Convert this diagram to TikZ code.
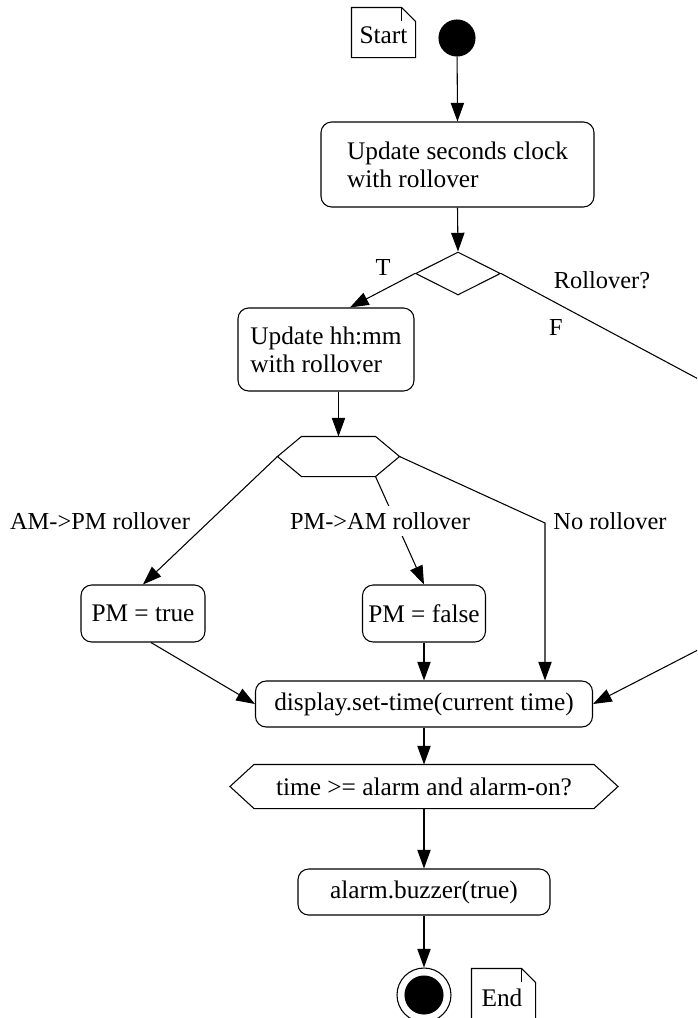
\documentclass[tikz,border=0pt]{standalone}
\usepackage{fontspec}
\setmainfont{Liberation Serif}
\usetikzlibrary{arrows.meta,calc,shapes.geometric}
\begin{document}
\begin{tikzpicture}[x=0.75pt,y=-0.75pt,
  line width=0.8pt,
  every node/.style={font=\fontsize{19}{21}\selectfont},
  arr/.style={-{Triangle[length=14pt,width=10pt]}},
  actbox/.style={draw,rounded corners=8pt,inner sep=0pt,align=left},
  plainbox/.style={draw=none,inner sep=0pt},
  lbl/.style={font=\fontsize{18.3}{21}\selectfont,inner sep=1pt},
  dot/.style={circle,fill=black,draw=black,inner sep=0pt}
]
\useasboundingbox (0,0) rectangle (697,1018);
\clip (0,0) rectangle (697,1018);

% notes
\node[plainbox,minimum width=47.25pt,minimum height=36.75pt] (snote) at (383.5,32.5) {};
\node at (383.5,35) {Start};
\node[plainbox,minimum width=47.25pt,minimum height=36.75pt] (enote) at (503.5,993.5) {};
\node at (502,998) {End};
\foreach \n in {snote,enote}{
  \draw (\n.south west) -- (\n.north west) -- ($(\n.north east)+(-14,0)$) -- ($(\n.north east)+(0,14)$) -- (\n.south east) -- cycle;
  \draw ($(\n.north east)+(-14,0)$) -- ($(\n.north east)+(-14,14)$);
}

% start / end
\node[dot,minimum size=27pt] (start) at (457,38) {};
\node[circle,draw,inner sep=0pt,minimum size=40.5pt] (endo) at (424,995) {};
\node[dot,minimum size=28.5pt] (endi) at (424,995) {};

% actions
\node[actbox,minimum width=204.75pt,minimum height=63.75pt] (box1) at (457.5,164.5) {Update seconds clock\\with rollover};
\node[diamond,draw,inner sep=0pt,minimum width=63.75pt,minimum height=32.25pt] (dia) at (458,273.5) {};
\node[actbox,minimum width=132pt,minimum height=62.25pt] (box2) at (326,349.5) {Update hh:mm\\with rollover};
\node[plainbox,minimum width=90.75pt,minimum height=29.25pt] (hex1) at (338.5,456.5) {};
\node[actbox,minimum width=93pt,minimum height=42.75pt] (pmt) at (143,613.5) {PM = true};
\node[actbox,minimum width=92.25pt,minimum height=42.75pt] (pmf) at (424,613.5) {PM = false};
\node[actbox,minimum width=252.75pt,minimum height=34.5pt] (disp) at (424,704) {display.set-time(current time)};
\node[plainbox,minimum width=290.25pt,minimum height=32.25pt] (hex2) at (424,786.5) {time >= alarm and alarm-on?};
\node[actbox,minimum width=189pt,minimum height=34.5pt] (alarm) at (424,892) {alarm.buzzer(true)};

\foreach \n in {hex1,hex2}{
  \draw (\n.west) -- ($(\n.north west)+(24,0)$) -- ($(\n.north east)+(-24,0)$) -- (\n.east) -- ($(\n.south east)+(-24,0)$) -- ($(\n.south west)+(24,0)$) -- cycle;
}

% connectors
\draw[arr] (start) -- (box1.north);
\draw[arr] (box1.south) -- (dia.north);
\draw[arr] (dia.west) -- ($(box2.north)+(24,0)$);
\coordinate (f1) at (760,412);
\coordinate (f2) at (760,618);
\draw[arr] (dia.east) -- (f1) -- (f2) -- (disp.east);
\draw[arr] (box2.south -| hex1.north) -- (hex1.north);
\draw[arr] (hex1.west) -- (pmt.north);
\draw[arr] ($(hex1.south east)+(-24,0)$) -- (pmf.north);
\coordinate (c3) at (545,523);
\draw[arr] (hex1.east) -- (c3) -- (c3 |- disp.north);
\draw[arr] ($(pmt.south)+(8,0)$) -- (disp.west);
\draw[arr] (pmf.south) -- (disp.north -| pmf.south);
\draw[arr] (disp.south) -- (hex2.north);
\draw[arr] (hex2.south) -- (alarm.north);
\draw[arr] (alarm.south) -- (endo.north);

% labels
\node[lbl] (lT) at (383,268) {T};
\node[lbl] (lR) at (602,280) {Rollover?};
\node[lbl] (lF) at (556,328) {F};
\node[lbl] (lA) at (100,521) {AM->PM rollover};
\node[lbl,fill=white,inner ysep=5pt] (lP) at (380,521) {PM->AM rollover};
\node[lbl] (lN) at (610,521) {No rollover};
\end{tikzpicture}
\end{document}
